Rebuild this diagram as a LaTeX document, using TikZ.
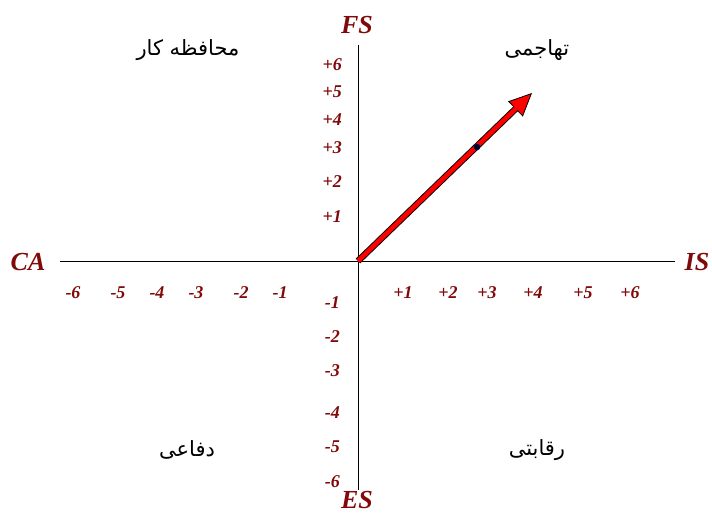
\documentclass[tikz,border=0pt]{standalone}
\usepackage{fontspec}
\setmainfont{Liberation Serif}
\newfontfamily\farsifont[Script=Arabic]{DejaVu Sans}
\usetikzlibrary{arrows.meta}
\TeXXeTstate=1
\definecolor{axisred}{RGB}{128,10,10}

\begin{document}
\begin{tikzpicture}[
    x=1pt, y=-1pt,
    axis/.style={draw, line width=0.8pt},
    axislabel/.style={text=axisred, font=\fontsize{26}{26}\selectfont\bfseries\itshape, inner sep=0pt},
    tick/.style={text=axisred, font=\fontsize{18}{18}\selectfont\bfseries\itshape, inner sep=0pt},
    quadrant/.style={font=\fontsize{21}{21}\farsifont, inner sep=0pt}
]
\useasboundingbox (0,0) rectangle (712,515);

% axes
\coordinate (O) at (358,261);
\coordinate (west) at (60,261);
\coordinate (east) at (675,261);
\coordinate (north) at (358,45);
\coordinate (south) at (358,490);
\draw[axis] (west) -- (east);
\draw[axis] (north) -- (south);

\node[axislabel] (FS) at (357,25) {FS};
\node[axislabel] (ES) at (357,500) {ES};
\node[axislabel] (CA) at (28,262) {CA};
\node[axislabel] (IS) at (697,262) {IS};

% ticks
\foreach \lab/\x [count=\i] in {-6/73, -5/118, -4/157, -3/196, -2/241, -1/280,
                                +1/403, +2/448, +3/487, +4/533, +5/583, +6/630}
    \node[tick] (xt\i) at (\x,293) {\lab};
\foreach \lab/\y [count=\i] in {+6/65, +5/92, +4/120, +3/148, +2/182, +1/217}
    \node[tick, anchor=east] (yp\i) at (342,\y) {\lab};
\foreach \lab/\y [count=\i] in {-1/303, -2/337, -3/371, -4/413, -5/447, -6/482}
    \node[tick, anchor=east] (yn\i) at (340,\y) {\lab};

% quadrants
\node[quadrant] (q1) at (188,50) {\beginR محافظه کار\endR};
\node[quadrant] (q2) at (537,50) {\beginR تهاجمی\endR};
\node[quadrant] (q3) at (187,450) {\beginR دفاعی\endR};
\node[quadrant] (q4) at (537,450) {\beginR رقابتی\endR};

% vector
\coordinate (T) at (532,93);
\draw[line width=6.5pt, -{Triangle[length=23pt, width=21pt, line width=0.8pt, fill=red]}] (O) -- (T);
\draw[line width=4.6pt, red, shorten >=22pt] (O) -- (T);
\node[circle, fill=black, draw=blue!60!black, line width=0.5pt, inner sep=0pt, minimum size=6pt] (pt) at (477,147) {};
\end{tikzpicture}
\end{document}
